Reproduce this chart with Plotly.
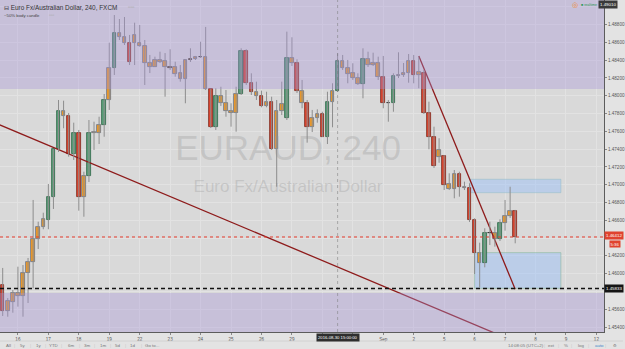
import plotly.graph_objects as go

# ---------------- data (EURAUD 4h candles) ----------------
# "30" and "31" sit under the crosshair time label in the reference, so they are blank
day_labels = ["16", "17", "18", "19", "22", "23", "24", "25", "26", "29", "", "",
              "Sep", "2", "5", "6", "7", "8", "9", "12"]
lead_candles = 3          # candles of Aug 15 before the first labelled day
candles_per_day = 6
price_tick_start, price_tick_step, price_tick_count = 1.454, 0.002, 19

open_ = [1.45873, 1.45584, 1.45685, 1.45779, 1.45749, 1.46004, 1.46135, 1.46386, 1.46528, 1.46603,
         1.46865, 1.47398, 1.47832, 1.47776, 1.47345, 1.47578, 1.46858, 1.47098, 1.47578, 1.47584,
         1.47668, 1.47952, 1.48308, 1.48702, 1.48657, 1.48596, 1.48589, 1.48589, 1.48562, 1.48371,
         1.48326, 1.48402, 1.48390, 1.48326, 1.48320, 1.48252, 1.48185, 1.48405, 1.48409, 1.48432,
         1.48432, 1.48072, 1.47652, 1.47997, 1.47915, 1.47832, 1.47803, 1.48019, 1.48503, 1.48146,
         1.48045, 1.47997, 1.47885, 1.47930, 1.47405, 1.47828, 1.47746, 1.48421, 1.48365, 1.48053,
         1.47922, 1.47652, 1.47746, 1.47795, 1.47539, 1.47930, 1.48053, 1.48394, 1.48315, 1.48252,
         1.48196, 1.48132, 1.48413, 1.48345, 1.48371, 1.48214, 1.47915, 1.47915, 1.48222, 1.48233,
         1.48252, 1.48394, 1.48233, 1.48259, 1.47809, 1.47533, 1.47315, 1.47323, 1.47008, 1.46948,
         1.47117, 1.46977, 1.46966, 1.46603, 1.46229, 1.46116, 1.46460, 1.46460, 1.46386, 1.46566,
         1.46648, 1.46704]
high = [1.46064, 1.45726, 1.45816, 1.46078, 1.46097, 1.46176, 1.46828, 1.46584, 1.46685, 1.47008,
        1.47401, 1.47952, 1.47944, 1.47806, 1.47697, 1.47615, 1.47146, 1.47727, 1.47708, 1.47764,
        1.48019, 1.48596, 1.48907, 1.48862, 1.48885, 1.48683, 1.48821, 1.48795, 1.48626, 1.48458,
        1.48439, 1.48495, 1.48480, 1.48522, 1.48382, 1.48345, 1.48409, 1.48533, 1.48447, 1.48607,
        1.48773, 1.48076, 1.48084, 1.48101, 1.48064, 1.47915, 1.48101, 1.48533, 1.48522, 1.48252,
        1.48158, 1.48057, 1.48045, 1.47989, 1.47952, 1.48158, 1.48720, 1.48657, 1.48409, 1.48177,
        1.47952, 1.47840, 1.47847, 1.47820, 1.48045, 1.48140, 1.48477, 1.48458, 1.48402, 1.48365,
        1.48252, 1.48533, 1.48495, 1.48484, 1.48439, 1.48447, 1.47952, 1.48252, 1.48488, 1.48368,
        1.48469, 1.48458, 1.48439, 1.48289, 1.47933, 1.47652, 1.47522, 1.47334, 1.47128, 1.47165,
        1.47146, 1.47034, 1.47016, 1.46622, 1.46348, 1.46510, 1.46584, 1.46528, 1.46611, 1.46828,
        1.46977, 1.46716]
low = [1.45524, 1.45516, 1.45561, 1.45629, 1.45516, 1.45670, 1.45835, 1.46277, 1.46499, 1.46499,
       1.46727, 1.47368, 1.47634, 1.47315, 1.47278, 1.46708, 1.46640, 1.47030, 1.47390, 1.47457,
       1.47539, 1.47840, 1.48233, 1.48626, 1.48570, 1.48345, 1.48345, 1.48551, 1.48121, 1.48255,
       1.48323, 1.48368, 1.47989, 1.48289, 1.48214, 1.48158, 1.47915, 1.48379, 1.48402, 1.48424,
       1.48064, 1.47637, 1.47615, 1.47885, 1.47764, 1.47652, 1.47596, 1.48008, 1.48121, 1.48008,
       1.47952, 1.47870, 1.47870, 1.47390, 1.46977, 1.47783, 1.47727, 1.48334, 1.48031, 1.47859,
       1.47472, 1.47592, 1.47697, 1.47536, 1.47457, 1.47645, 1.48042, 1.48289, 1.48140, 1.48177,
       1.48121, 1.47971, 1.48323, 1.48334, 1.48177, 1.47859, 1.47708, 1.47820, 1.48199, 1.48211,
       1.48146, 1.48140, 1.48084, 1.47795, 1.47398, 1.47188, 1.47247, 1.46940, 1.46940, 1.46847,
       1.46865, 1.46940, 1.46581, 1.45996, 1.45847, 1.46071, 1.46322, 1.46303, 1.46367, 1.46483,
       1.46626, 1.46341]
close = [1.45584, 1.45693, 1.45783, 1.45749, 1.46007, 1.46135, 1.46390, 1.46528, 1.46611, 1.46865,
         1.47398, 1.47832, 1.47776, 1.47345, 1.47578, 1.46858, 1.47098, 1.47578, 1.47592, 1.47668,
         1.47952, 1.48308, 1.48702, 1.48657, 1.48596, 1.48382, 1.48683, 1.48562, 1.48365, 1.48326,
         1.48402, 1.48382, 1.48326, 1.48315, 1.48244, 1.48185, 1.48402, 1.48409, 1.48432, 1.48435,
         1.48072, 1.47652, 1.47997, 1.47915, 1.47832, 1.47803, 1.48019, 1.48503, 1.48146, 1.48045,
         1.48000, 1.47885, 1.47930, 1.47405, 1.47828, 1.47907, 1.48421, 1.48365, 1.48053, 1.47922,
         1.47652, 1.47746, 1.47795, 1.47539, 1.47930, 1.48053, 1.48394, 1.48315, 1.48244, 1.48196,
         1.48132, 1.48413, 1.48345, 1.48371, 1.48214, 1.47915, 1.47918, 1.48222, 1.48233, 1.48255,
         1.48394, 1.48233, 1.48267, 1.47809, 1.47533, 1.47210, 1.47390, 1.46997, 1.46948, 1.47117,
         1.46971, 1.46959, 1.46603, 1.46229, 1.46116, 1.46460, 1.46454, 1.46386, 1.46566, 1.46648,
         1.46704, 1.46412]
# candle class from the "~50% body candle" colouring: up / down / half / doji
kind = ["down", "half", "half", "half", "half", "half", "half", "half", "half", "up",
        "up", "up", "half", "down", "up", "down", "half", "up", "half", "half",
        "up", "half", "up", "half", "half", "down", "half", "half", "half", "half",
        "half", "half", "half", "doji", "half", "half", "half", "doji", "half", "doji",
        "half", "down", "up", "half", "half", "half", "half", "up", "down", "down",
        "half", "down", "half", "down", "half", "half", "up", "half", "down", "half",
        "down", "half", "half", "down", "up", "half", "up", "half", "half", "half",
        "half", "up", "half", "half", "half", "down", "doji", "up", "half", "half",
        "half", "down", "half", "down", "down", "down", "half", "down", "half", "half",
        "down", "half", "down", "down", "half", "up", "doji", "half", "up", "half",
        "half", "down"]

last_price = 1.46412
countdown = "5:36"
support_price = 1.45833
upper_zone_floor = 1.48075
lower_zone_ceiling = 1.45782
trend_a_idx, trend_a_price = [-1, 97], [1.47683, 1.45331]
trend_b_idx, trend_b_price = [82, 101], [1.48447, 1.45824]
box_a = {"i": [92.1, 110.0], "p": [1.46910, 1.47061]}
box_b = {"i": [93.0, 110.0], "p": [1.45835, 1.46236]}
cursor_idx = 66
cursor_text = "2016-08-30 15:00:00"
top_label = "1.49010"

# ---------------- styling ----------------
FONT = "Liberation Sans, Arial, sans-serif"
W, H = 625, 349
ML, MR, MT, MB = 0, 19, 0, 17
PW, PH = W - ML - MR, H - MT - MB
x_range = [-0.53, 118.5]
y_range = [1.45344, 1.49076]

fills = {"up": "#5a9f78", "down": "#dc4630", "half": "#f29a23", "doji": "#f29a23"}
edges = {"up": "#2d6648", "down": "#7e2a1e", "half": "#66748c", "doji": "#2a2a2a"}

idx = list(range(len(close)))

fig = go.Figure()

# watermark (behind candles)
wx = x_range[0] + 289 / PW * (x_range[1] - x_range[0])
wy1 = y_range[1] - 151 / PH * (y_range[1] - y_range[0])
wy2 = y_range[1] - 188 / PH * (y_range[1] - y_range[0])
fig.add_trace(go.Scatter(x=[wx], y=[wy1], mode="text", text=["EURAUD, 240"],
                         textfont=dict(size=35, color="rgba(150,150,150,0.32)", family=FONT),
                         hoverinfo="skip"))
fig.add_trace(go.Scatter(x=[wx], y=[wy2], mode="text", text=["Euro Fx/Australian Dollar"],
                         textfont=dict(size=17, color="rgba(150,150,150,0.32)", family=FONT),
                         hoverinfo="skip"))

# trend lines
fig.add_trace(go.Scatter(x=trend_a_idx, y=trend_a_price, mode="lines",
                         line=dict(color="#8e1b1b", width=1.3), hoverinfo="skip"))
fig.add_trace(go.Scatter(x=trend_b_idx, y=trend_b_price, mode="lines",
                         line=dict(color="#8e1b1b", width=1.3), hoverinfo="skip"))

# wicks
wx_, wy_ = [], []
for i, h, l in zip(idx, high, low):
    wx_ += [i, i, None]
    wy_ += [l, h, None]
fig.add_trace(go.Scatter(x=wx_, y=wy_, mode="lines", line=dict(color="#8d8d8d", width=1),
                         hoverinfo="skip"))

# bodies
fig.add_trace(go.Bar(x=idx, y=[c - o for o, c in zip(open_, close)], base=open_, width=0.7,
                     marker=dict(color=[fills[k] for k in kind],
                                 line=dict(color=[edges[k] for k in kind], width=0.8)),
                     hoverinfo="skip"))

shapes = [
    # highlighted zones (semi-transparent, above everything)
    dict(type="rect", xref="paper", x0=0, x1=1, yref="y", y0=upper_zone_floor, y1=y_range[1],
         fillcolor="rgba(167,147,218,0.35)", line=dict(width=0), layer="above"),
    dict(type="rect", xref="paper", x0=0, x1=1, yref="y", y0=y_range[0], y1=lower_zone_ceiling,
         fillcolor="rgba(167,147,218,0.35)", line=dict(width=0), layer="above"),
    # blue boxes
    dict(type="rect", xref="x", x0=box_a["i"][0], x1=box_a["i"][1], yref="y",
         y0=box_a["p"][0], y1=box_a["p"][1], fillcolor="rgba(150,190,250,0.45)",
         line=dict(color="rgba(150,190,200,0.7)", width=0.8), layer="between"),
    dict(type="rect", xref="x", x0=box_b["i"][0], x1=box_b["i"][1], yref="y",
         y0=box_b["p"][0], y1=box_b["p"][1], fillcolor="rgba(150,190,250,0.45)",
         line=dict(color="rgba(140,185,160,0.8)", width=0.8), layer="between"),
    # crosshair
    dict(type="line", xref="x", x0=cursor_idx, x1=cursor_idx, yref="paper", y0=0, y1=1,
         line=dict(color="rgba(120,120,120,0.5)", width=1, dash="dot"), layer="above"),
    # last price & support lines
    dict(type="line", xref="paper", x0=0, x1=1, yref="y", y0=last_price, y1=last_price,
         line=dict(color="#e53b2c", width=1, dash="dot"), layer="above"),
    dict(type="line", xref="paper", x0=0, x1=1, yref="y", y0=support_price, y1=support_price,
         line=dict(color="#111111", width=1.5, dash="4px,3px"), layer="above"),
    # toolbar separator line
    dict(type="line", xref="paper", x0=0, x1=W / PW, yref="paper",
         y0=1 - 341 / PH, y1=1 - 341 / PH, line=dict(color="#d2d2d2", width=1)),
]


def px(x):
    return (x - ML) / PW


def py(y):
    return 1 - (y - MT) / PH


def txt(text, x, y, size=4.6, color="#666", xanchor="center", **kw):
    d = dict(text=text, xref="paper", yref="paper", x=px(x), y=py(y), xanchor=xanchor,
             yanchor="middle", showarrow=False, font=dict(size=size, color=color, family=FONT))
    d.update(kw)
    return d


anns = [
    txt("⊟ Euro Fx/Australian Dollar, 240, FXCM", 2, 7, size=6.4, color="#333", xanchor="left"),
    txt("▫▫▫", 126, 7, size=6, color="#aaaaaa", xanchor="left"),
    txt("~50% body candle", 2, 15, size=4.3, color="#444", xanchor="left"),
    txt("▫▫▫", 47, 15, size=5, color="#aaaaaa", xanchor="left"),
    txt("◎", 577, 5, size=7, color="#f0862a"),
    txt("■ realtime", 591, 5, size=3.6, color="#2e9a57"),
    txt(top_label, 600, 4.5, size=4.4, color="white", xanchor="left", bgcolor="#3a3a3a",
        borderpad=1),
    # right-axis price labels
    dict(text="1.46412", xref="paper", yref="y", x=1.0, y=last_price, yshift=1,
         xanchor="left", yanchor="middle", showarrow=False, bgcolor="#e0432f", borderpad=1,
         font=dict(size=4.4, color="white", family=FONT)),
    dict(text=countdown, xref="paper", yref="y", x=1.0 + 5 / PW, y=last_price, yshift=-7.5,
         xanchor="left", yanchor="middle", showarrow=False, bgcolor="#e0432f", borderpad=0.6,
         font=dict(size=4.2, color="white", family=FONT)),
    dict(text="1.45833", xref="paper", yref="y", x=1.0, y=support_price, xanchor="left",
         yanchor="middle", showarrow=False, bgcolor="#151515", borderpad=1,
         font=dict(size=4.4, color="white", family=FONT)),
    # crosshair time label
    dict(text=cursor_text, xref="x", yref="paper", x=cursor_idx, y=py(337.5), xanchor="center",
         yanchor="middle", showarrow=False, bgcolor="#2e2e2e", borderpad=1,
         font=dict(size=4.2, color="white", family=FONT)),
]

left_tools = [("All", 8.3), ("5y", 22.7), ("1y", 38.3), ("YTD", 53.3), ("6m", 71),
              ("3m", 87.3), ("1m", 103.3), ("5d", 118.3), ("1d", 133.3), ("Go to...", 152.7)]
for t, x in left_tools:
    anns.append(txt(t, x, 345, size=4.4, color="#777"))
for x in [15, 30.7, 46, 61.7, 80, 95, 110.7, 126, 141.7]:
    anns.append(txt("|", x, 345, size=4.4, color="#c8c8c8"))
right_tools = [("14:08:05 (UTC+2)", 528, "#777"), ("ext", 553.3, "#777"), ("%", 567.7, "#777"),
               ("log", 582.7, "#777"), ("auto", 601, "#3d86c9"), ("⚙", 617.3, "#777")]
for t, x, c in right_tools:
    anns.append(txt(t, x, 345, size=4.4, color=c))
for x in [546.7, 560, 573, 590, 608]:
    anns.append(txt("|", x, 345, size=4.4, color="#c8c8c8"))

tickvals = [lead_candles + candles_per_day * k for k in range(len(day_labels))]

# price ticks; labels hidden where the price badges cover them (as on the reference)
ytickvals = [round(price_tick_start + price_tick_step * k, 3) for k in range(price_tick_count)]
covered = [last_price, support_price, y_range[1]]
yticktext = ["" if any(abs(t - c) < 0.0012 for c in covered) else f"{t:.5f}" for t in ytickvals]

fig.update_layout(
    width=W, height=H, margin=dict(l=ML, r=MR, t=MT, b=MB),
    paper_bgcolor="#e3e3e3", plot_bgcolor="#d9d9d9", showlegend=False,
    bargap=0, font=dict(family=FONT, size=4.6, color="#555"),
    shapes=shapes, annotations=anns,
    xaxis=dict(range=x_range, tickvals=tickvals, ticktext=day_labels, showgrid=True,
               gridcolor="#e2e2e2", gridwidth=1, zeroline=False, showline=True,
               linecolor="#5c5c5c", linewidth=1, ticks="outside", ticklen=2,
               tickcolor="#888", tickfont=dict(size=4.6, color="#555"), fixedrange=True),
    yaxis=dict(range=y_range, side="right", tickvals=ytickvals, ticktext=yticktext,
               showgrid=True, gridcolor="#e2e2e2", gridwidth=1, zeroline=False,
               showline=True, linecolor="#5c5c5c", linewidth=1, ticks="outside", ticklen=2,
               tickcolor="#888", tickfont=dict(size=4.6, color="#555"), fixedrange=True),
)

fig.write_html("out.html")
